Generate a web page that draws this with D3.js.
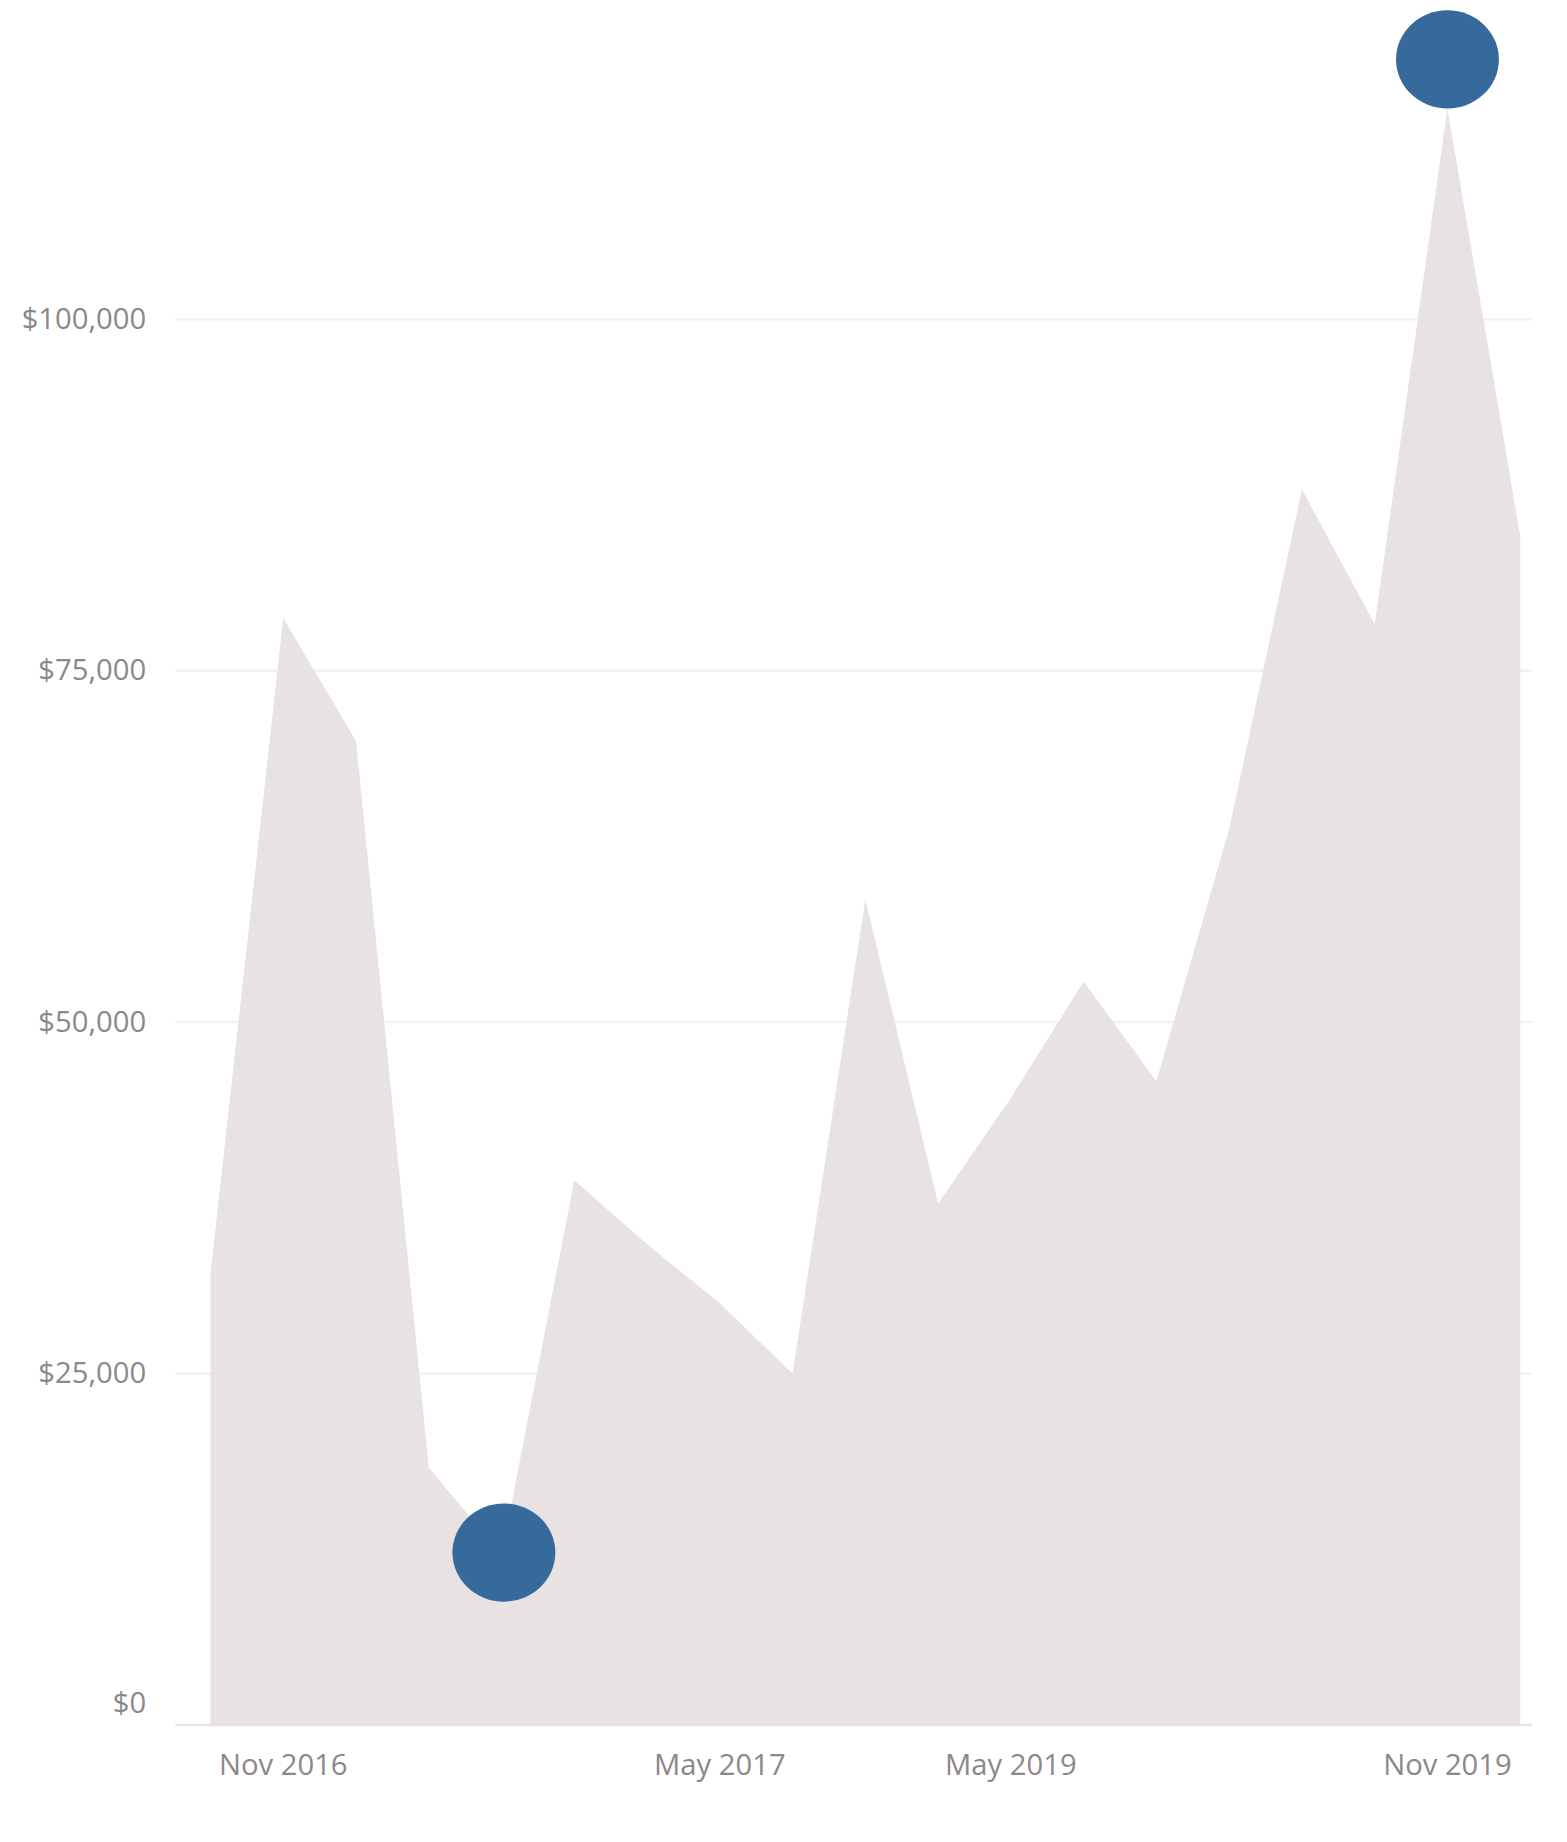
<!DOCTYPE html>
<html>
<head>
<meta charset="utf-8">
<script src="https://cdn.jsdelivr.net/npm/d3@7"></script>
<style>
  body { margin: 0; background: #fff; }
  text { font-family: "Open Sans", sans-serif; fill: #8c8889; }
</style>
</head>
<body>
<div id="chart"></div>
<script>
// monthly sales
var values = [32100, 78750, 70000, 18300, 12100, 38750, 34200, 30000, 25000, 58750,
              37100, 44600, 52900, 45800, 63750, 87900, 78300, 115000, 84600];
var tickIndex = [1, 7, 11, 17];
var tickLabels = ["Nov 2016", "May 2017", "May 2019", "Nov 2019"];
var yTicks = [0, 25000, 50000, 75000, 100000];

// drawing in a 1340x1575 box, scaled up to the window
var W = 1340, H = 1575;
var svg = d3.select('#chart').append('svg')
    .attr('width', 1567).attr('height', 1842)
    .attr('viewBox', '0 0 ' + W + ' ' + H);

var x = d3.scaleLinear().domain([0, values.length - 1]).range([180, 1300]);
var y = d3.scaleLinear().domain([0, 100000]).range([1475, 273]);

// gridlines
svg.selectAll('.grid').data(yTicks).enter().append('line')
    .attr('x1', 150).attr('x2', 1310)
    .attr('y1', function(d){ return y(d); }).attr('y2', function(d){ return y(d); })
    .attr('stroke', function(d){ return d === 0 ? '#e6e1e1' : '#f3f0f0'; })
    .attr('stroke-width', 2);

var area = d3.area()
    .x(function(d, i){ return x(i); })
    .y0(y(0))
    .y1(function(d){ return y(d); });

svg.append('path').datum(values)
    .attr('d', area)
    .attr('fill', '#e8e2e2');

// y labels
svg.selectAll('.ylab').data(yTicks).enter().append('text')
    .attr('x', 125)
    .attr('y', function(d){ return y(d) + 8 - (d === 0 ? 18 : 0); })
    .attr('text-anchor', 'end')
    .attr('font-size', 25)
    .text(function(d){ return '$' + d3.format(',')(d); });

// x labels
svg.selectAll('.xlab').data(tickIndex).enter().append('text')
    .attr('x', function(d){ return x(d); })
    .attr('y', 1518)
    .attr('text-anchor', 'middle')
    .attr('font-size', 25)
    .text(function(d, i){ return tickLabels[i]; });

// highlight min and max
var iMin = values.indexOf(d3.min(values)), iMax = values.indexOf(d3.max(values));
svg.append('ellipse')
    .attr('cx', x(iMin) + 2).attr('cy', y(values[iMin]) - 2)
    .attr('rx', 44).attr('ry', 42).attr('fill', '#356a9a');
svg.append('ellipse')
    .attr('cx', x(iMax)).attr('cy', y(values[iMax]) - 42)
    .attr('rx', 44).attr('ry', 42).attr('fill', '#356a9a');
</script>
</body>
</html>
